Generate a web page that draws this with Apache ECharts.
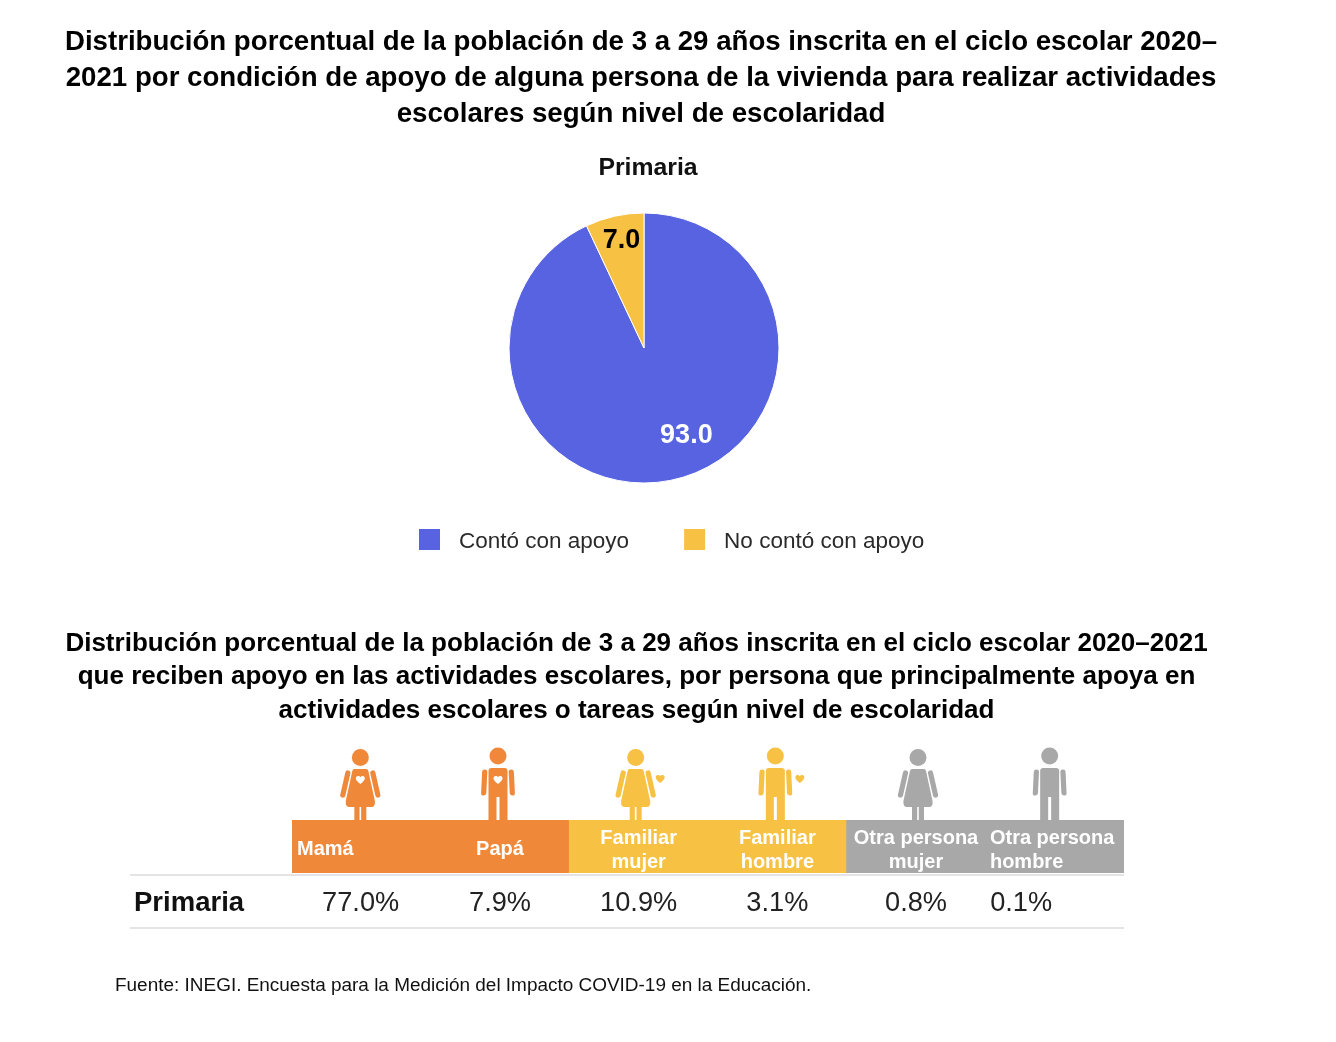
<!DOCTYPE html>
<html><head><meta charset="utf-8">
<style>html,body{margin:0;padding:0;background:#fff}#c{width:1336px;height:1042px}</style>
<script src="https://cdn.jsdelivr.net/npm/echarts@6/dist/echarts.min.js"></script>
</head><body><div id="c"></div>
<script>
const pieNames = ['Contó con apoyo', 'No contó con apoyo'];
const pieValues = [93.0, 7.0];
const helpers = ['Mamá', 'Papá', 'Familiar\nmujer', 'Familiar\nhombre', 'Otra persona\nmujer', 'Otra persona\nhombre'];
const helperShares = [77.0, 7.9, 10.9, 3.1, 0.8, 0.1];
const rowName = ['Primaria'];
const helperGroups = ['o', 'o', 'y', 'y', 'g', 'g'];
const helperFigures = ['w', 'm', 'w', 'm', 'w', 'm'];

const FONT = '"Liberation Sans", Arial, sans-serif';
const BLUE = '#5763E0', YEL = '#F7C143', ORG = '#F0883A', GRY = '#A8A8A8';
const groupColor = { o: ORG, y: YEL, g: GRY };
const iconNudge = [-1, -2, -3, -2, 2, -5];
const HEART = 'M5 9 C2 6.5 0 5 0 2.6 C0 1 1.2 0 2.6 0 C3.6 0 4.5 .5 5 1.4 C5.5 .5 6.4 0 7.4 0 C8.8 0 10 1 10 2.6 C10 5 8 6.5 5 9 Z';

function limb(x1, y1, x2, y2, w, color) {
  return { type: 'line', shape: { x1, y1, x2, y2 }, style: { stroke: color, lineWidth: w, lineCap: 'round' } };
}
function person(kind, color, heartInside, heartSide) {
  const c = [];
  if (kind === 'w') {
    c.push({ type: 'circle', shape: { cx: 0, cy: -62.5, r: 8.5 }, style: { fill: color } });
    c.push({ type: 'path', shape: { pathData: 'M-6 0 L6 0 Q7.5 0 8 2 L14.5 32 Q15 38 11 38 L-11 38 Q-15 38 -14.5 32 L-8 2 Q-7.5 0 -6 0 Z', layout: 'cover', x: -14.6, y: -51, width: 29.2, height: 38 }, style: { fill: color } });
    c.push(limb(-12.5, -47, -17.5, -25, 5.2, color), limb(12.5, -47, 17.5, -25, 5.2, color));
    c.push({ type: 'rect', shape: { x: -6, y: -14, width: 5.2, height: 14 }, style: { fill: color } });
    c.push({ type: 'rect', shape: { x: 0.8, y: -14, width: 5.2, height: 14 }, style: { fill: color } });
  } else {
    c.push({ type: 'circle', shape: { cx: 0, cy: -64, r: 8.5 }, style: { fill: color } });
    c.push({ type: 'rect', shape: { x: -9.5, y: -52, width: 19, height: 52, r: [3, 3, 0, 0] }, style: { fill: color } });
    c.push({ type: 'rect', shape: { x: -1.5, y: -23, width: 3, height: 23 }, style: { fill: '#fff' } });
    c.push(limb(-13.3, -48, -14.3, -27, 5.2, color), limb(13.3, -48, 14.3, -27, 5.2, color));
  }
  if (heartInside) c.push({ type: 'path', shape: { pathData: HEART, layout: 'cover', x: -4.5, y: -44, width: 9, height: 8 }, style: { fill: '#fff' } });
  if (heartSide) c.push({ type: 'path', shape: { pathData: HEART, layout: 'cover', x: 20, y: -45, width: 9, height: 8 }, style: { fill: color } });
  return c;
}

const chart = echarts.init(document.getElementById('c'), null, { renderer: 'canvas' });
chart.setOption({
  backgroundColor: '#fff',
  animation: false,
  textStyle: { fontFamily: FONT },
  title: [
    { text: 'Distribución porcentual de la población de 3 a 29 años inscrita en el ciclo escolar 2020–\n2021 por condición de apoyo de alguna persona de la vivienda para realizar actividades\nescolares según nivel de escolaridad',
      left: 636, top: 19, textAlign: 'center', textStyle: { fontFamily: FONT, fontSize: 27.65, fontWeight: 'bold', color: '#000', lineHeight: 36 } },
    { text: 'Primaria', left: 643, top: 151, textAlign: 'center', textStyle: { fontFamily: FONT, fontSize: 24.8, fontWeight: 'bold', color: '#111' } },
    { text: 'Distribución porcentual de la población de 3 a 29 años inscrita en el ciclo escolar 2020–2021\nque reciben apoyo en las actividades escolares, por persona que principalmente apoya en\nactividades escolares o tareas según nivel de escolaridad',
      left: 631.5, top: 622, textAlign: 'center', textStyle: { fontFamily: FONT, fontSize: 26.03, fontWeight: 'bold', color: '#000', lineHeight: 33.5 } },
    { text: 'Fuente: INEGI. Encuesta para la Medición del Impacto COVID-19 en la Educación.',
      left: 110, top: 971, textStyle: { fontFamily: FONT, fontSize: 18.97, fontWeight: 'normal', color: '#111' } }
  ],
  legend: {
    data: pieNames, left: 412, top: 522, icon: 'rect', itemWidth: 23, itemHeight: 23, itemGap: 53,
    formatter: n => '{t|' + n + '}',
    textStyle: { fontFamily: FONT, fontSize: 22.5, color: '#2a2a2a', padding: [0, 0, 0, 13],
      rich: { t: { fontFamily: FONT, fontSize: 22.5, color: '#2a2a2a', padding: [5, 0, 0, 0] } } }
  },
  grid: [
    { left: 292, top: 820, width: 832, height: 53 },
    { left: 292, top: 877, width: 832, height: 53 },
    { left: 292, top: 745, width: 832, height: 75 }
  ],
  xAxis: [0, 1, 2].map(i => ({
    type: 'category', gridIndex: i, data: helpers, show: false, boundaryGap: true
  })),
  yAxis: [
    { type: 'value', gridIndex: 0, min: 0, max: 1, show: false },
    { type: 'category', gridIndex: 1, data: rowName, axisLine: { show: false }, axisTick: { show: false }, splitLine: { show: false },
      axisLabel: { fontFamily: FONT, fontSize: 27.5, fontWeight: 'bold', color: '#111', align: 'left', margin: 158 } },
    { type: 'value', gridIndex: 2, min: 0, max: 1, show: false }
  ],
  series: [
    { type: 'pie', center: [644, 348], radius: 135, startAngle: 90, clockwise: true, silent: true,
      data: pieNames.map((n, i) => ({ name: n, value: pieValues[i], itemStyle: { color: i ? YEL : BLUE },
        label: { color: i ? '#000' : '#fff' } })),
      itemStyle: { borderColor: '#fff', borderWidth: 1 },
      label: { show: true, position: 'inside', fontFamily: FONT, fontSize: 27, fontWeight: 'bold',
        formatter: p => p.value.toFixed(1) },
      labelLine: { show: false },
      labelLayout: p => p.dataIndex === 0 ? { dx: 27, dy: 19 } : { dx: -7, dy: -39 }
    },
    { type: 'bar', xAxisIndex: 0, yAxisIndex: 0, barWidth: '100.6%', silent: true,
      data: helpers.map((h, i) => {
        const leftAligned = i === 0 || i === 5;
        const col = groupColor[helperGroups[i]];
        return {
          value: 1, itemStyle: { color: col },
          label: {
            position: leftAligned ? 'insideLeft' : 'inside',
            distance: 5,
            align: leftAligned ? 'left' : 'center',
            offset: [0, i < 2 ? 3 : 4]
          }
        };
      }),
      label: { show: true, fontFamily: FONT, fontSize: 20, fontWeight: 'bold', color: '#fff', lineHeight: 24,
        formatter: p => helpers[p.dataIndex] }
    },
    { type: 'scatter', xAxisIndex: 1, yAxisIndex: 1, symbolSize: 1, silent: true, itemStyle: { color: 'rgba(0,0,0,0)', opacity: 1 },
      data: helperShares.map((v, i) => ({
        value: [helpers[i], rowName[0], v],
        label: { offset: i === 5 ? [-33.5, 0] : i === 0 ? [-0.7, 0] : [0, 0] }
      })),
      encode: { x: 0, y: 1 },
      label: { show: true, position: 'inside', fontFamily: FONT, fontSize: 27.2, color: '#222',
        formatter: p => p.value[2].toFixed(1) + '%' }
    },
    { type: 'custom', xAxisIndex: 2, yAxisIndex: 2, silent: true, clip: false,
      data: helpers.map((h, i) => [i, 0]),
      encode: { x: 0, y: 1 },
      renderItem: (params, api) => {
        const i = params.dataIndex;
        const pt = api.coord([i, 0]);
        const isMum = i === 0, isDad = i === 1, fam = helperGroups[i] === 'y';
        return { type: 'group', x: pt[0] + iconNudge[i], y: pt[1],
          children: person(helperFigures[i], groupColor[helperGroups[i]], isMum || isDad, fam) };
      }
    }
  ],
  graphic: [
    { type: 'line', shape: { x1: 130, y1: 875, x2: 1124, y2: 875 }, style: { stroke: '#e4e4e4', lineWidth: 2 } },
    { type: 'line', shape: { x1: 130, y1: 928, x2: 1124, y2: 928 }, style: { stroke: '#e4e4e4', lineWidth: 2 } }
  ]
});
</script></body></html>
